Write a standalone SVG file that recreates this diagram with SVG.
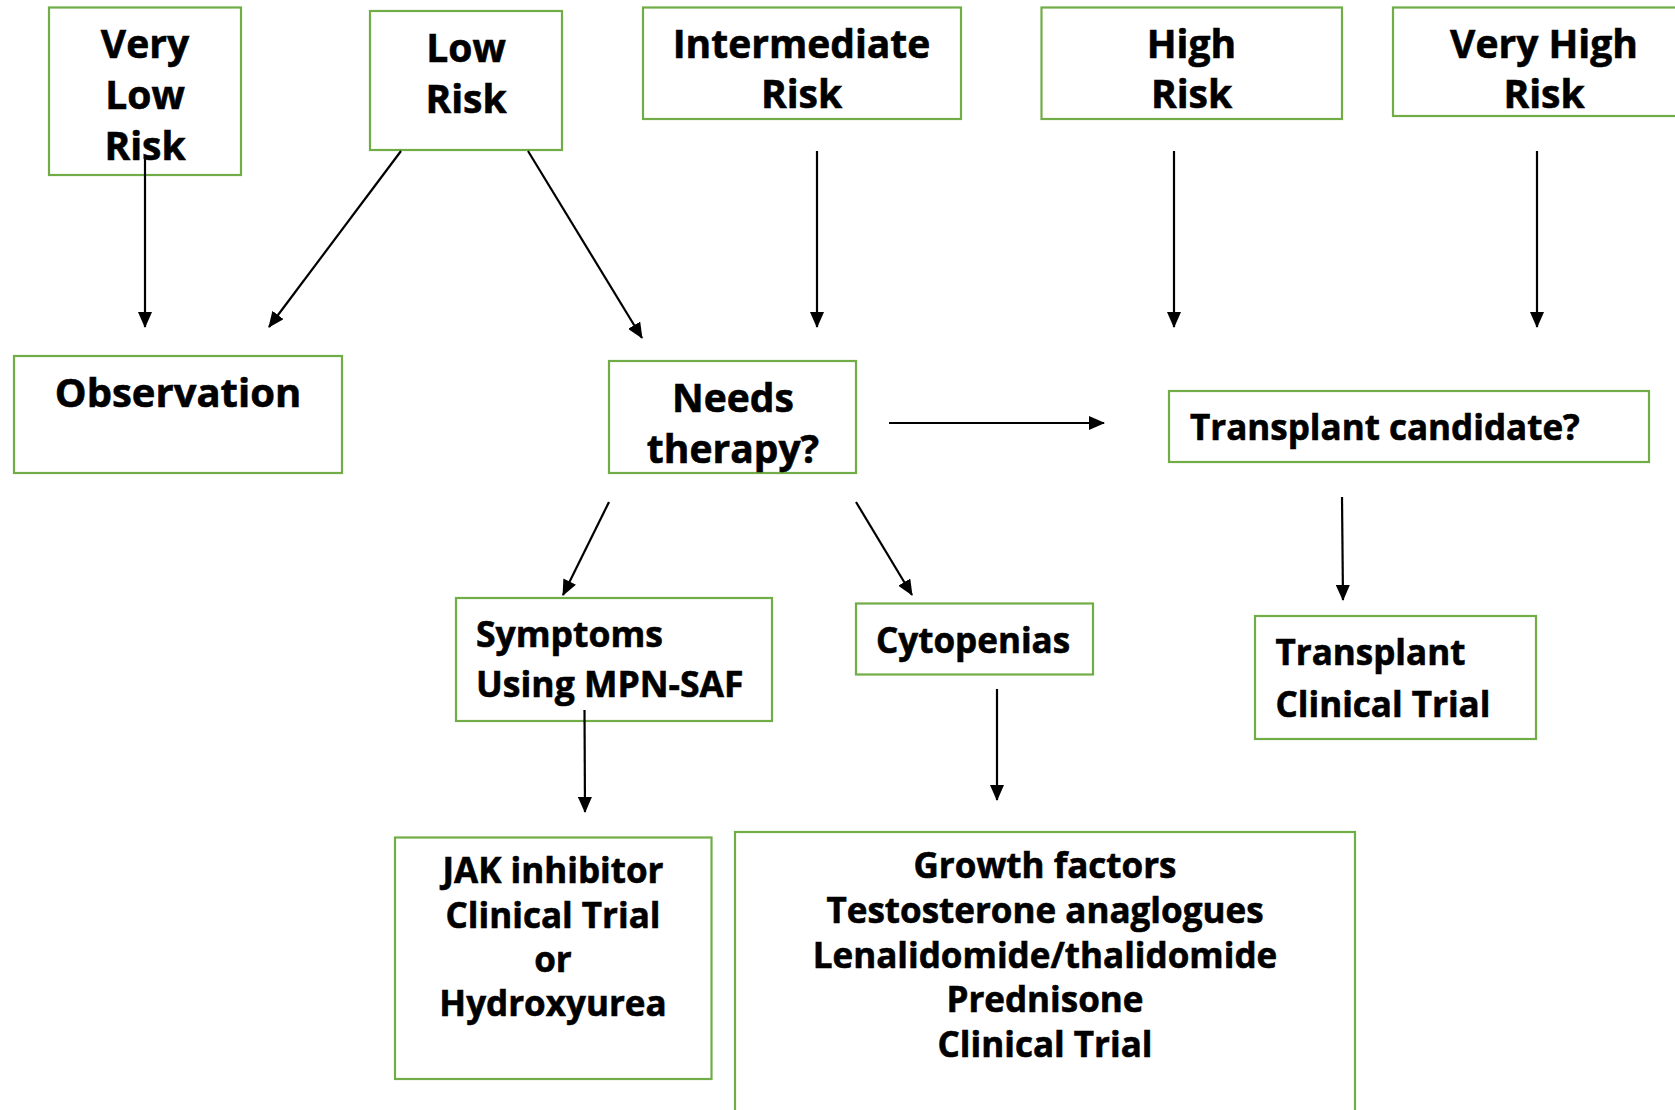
<svg xmlns="http://www.w3.org/2000/svg" width="1675" height="1110" viewBox="0 0 1675 1110">
<defs>
<style>
.box{fill:#ffffff;stroke:#70ad47;stroke-width:2.2}
.t{font-family:"Open Sans","Noto Sans","DejaVu Sans",sans-serif;font-weight:700;fill:#000000;stroke:#000000;stroke-width:0.6}
.l{font-size:39px}
.s{font-size:35px}
.m{text-anchor:middle}
.c{stroke:#000000;stroke-width:2.2;fill:none}
</style>
<marker id="ah" markerUnits="userSpaceOnUse" markerWidth="16" markerHeight="14" refX="15" refY="7" orient="auto">
<path d="M0,0 L16,7 L0,14 z" fill="#000000"/>
</marker>
</defs>
<rect x="0" y="0" width="1675" height="1110" fill="#ffffff"/>

<g id="very-low-risk">
<rect class="box" x="49" y="7.5" width="192" height="167.5"/>
<text class="t l m" x="145" y="58">Very</text>
<text class="t l m" x="145" y="109">Low</text>
<text class="t l m" x="145" y="160">Risk</text>
</g>

<g id="low-risk">
<rect class="box" x="370" y="11" width="192" height="139"/>
<text class="t l m" x="466" y="62">Low</text>
<text class="t l m" x="466" y="113">Risk</text>
</g>

<g id="intermediate-risk">
<rect class="box" x="643" y="7.5" width="318" height="111.5"/>
<text class="t l m" x="801.5" y="58">Intermediate</text>
<text class="t l m" x="801.5" y="108">Risk</text>
</g>

<g id="high-risk">
<rect class="box" x="1041.5" y="7.5" width="300.5" height="111.5"/>
<text class="t l m" x="1191.5" y="58">High</text>
<text class="t l m" x="1191.5" y="108">Risk</text>
</g>

<g id="very-high-risk">
<rect class="box" x="1393" y="7.5" width="300" height="108.5"/>
<text class="t l m" x="1544" y="58">Very High</text>
<text class="t l m" x="1544" y="108">Risk</text>
</g>

<g id="observation">
<rect class="box" x="14" y="356" width="328" height="117"/>
<text class="t m" x="178" y="407" font-size="40">Observation</text>
</g>

<g id="needs-therapy">
<rect class="box" x="609" y="361" width="247" height="112"/>
<text class="t l m" x="733" y="412">Needs</text>
<text class="t l m" x="733" y="463">therapy?</text>
</g>

<g id="transplant-candidate">
<rect class="box" x="1169" y="391" width="480" height="71"/>
<text class="t s" x="1190" y="440">Transplant candidate?</text>
</g>

<g id="symptoms">
<rect class="box" x="456" y="598" width="316" height="123"/>
<text class="t" x="476" y="647" font-size="35.5">Symptoms</text>
<text class="t" x="476" y="697" font-size="35.5">Using MPN-SAF</text>
</g>

<g id="cytopenias">
<rect class="box" x="856" y="603.5" width="237" height="71"/>
<text class="t s" x="876" y="652.5">Cytopenias</text>
</g>

<g id="transplant-clinical-trial">
<rect class="box" x="1255" y="616" width="281" height="123"/>
<text class="t s" x="1275.5" y="665">Transplant</text>
<text class="t s" x="1275.5" y="716.5">Clinical Trial</text>
</g>

<g id="jak-inhibitor">
<rect class="box" x="395" y="837.5" width="316.5" height="241.5"/>
<text class="t s m" x="553" y="883">JAK inhibitor</text>
<text class="t s m" x="553" y="928">Clinical Trial</text>
<text class="t s m" x="553" y="972">or</text>
<text class="t s m" x="553" y="1016">Hydroxyurea</text>
</g>

<g id="growth-factors">
<rect class="box" x="735" y="832" width="620" height="300"/>
<text class="t s m" x="1045" y="877.5">Growth factors</text>
<text class="t s m" x="1045" y="923">Testosterone anaglogues</text>
<text class="t s m" x="1045" y="968">Lenalidomide/thalidomide</text>
<text class="t s m" x="1045" y="1012">Prednisone</text>
<text class="t s m" x="1045" y="1057">Clinical Trial</text>
</g>

<g id="connectors">
<line class="c" x1="145" y1="159" x2="145" y2="327" marker-end="url(#ah)"/>
<line class="c" x1="401" y1="151" x2="269" y2="327" marker-end="url(#ah)"/>
<line class="c" x1="528" y1="151" x2="642" y2="338" marker-end="url(#ah)"/>
<line class="c" x1="817" y1="151" x2="817" y2="327" marker-end="url(#ah)"/>
<line class="c" x1="1174" y1="151" x2="1174" y2="327" marker-end="url(#ah)"/>
<line class="c" x1="1537" y1="151" x2="1537" y2="327" marker-end="url(#ah)"/>
<line class="c" x1="889" y1="423" x2="1104" y2="423" stroke-width="3" marker-end="url(#ah)"/>
<line class="c" x1="609" y1="502" x2="563" y2="595" marker-end="url(#ah)"/>
<line class="c" x1="856" y1="502" x2="912" y2="595" marker-end="url(#ah)"/>
<line class="c" x1="1342" y1="497" x2="1343" y2="600" marker-end="url(#ah)"/>
<line class="c" x1="584.5" y1="710" x2="585" y2="812" marker-end="url(#ah)"/>
<line class="c" x1="997" y1="689" x2="997" y2="800" marker-end="url(#ah)"/>
</g>
</svg>
